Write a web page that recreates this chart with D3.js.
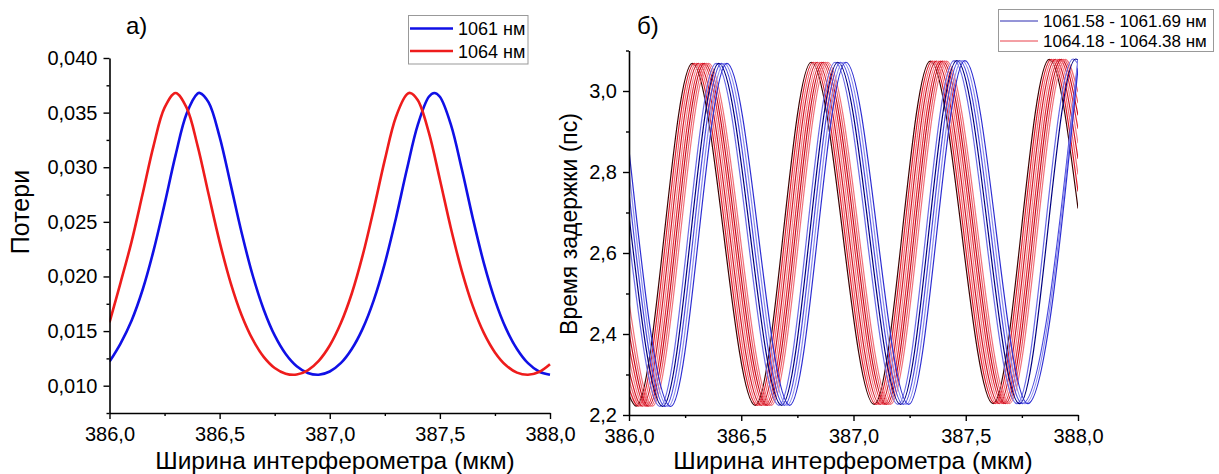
<!DOCTYPE html>
<html><head><meta charset="utf-8">
<script src="https://cdn.jsdelivr.net/npm/d3@7"></script>
<style>
body{margin:0;background:#fff}
svg{display:block}
text{font-family:"Liberation Sans",Arial,sans-serif;fill:#000}
</style>
</head><body>
<svg id="c" width="1219" height="474"></svg>
<script>
// ---------- Panel a) : losses ----------
const lossBlueX = [386.00,386.05,386.10,386.15,386.20,386.25,386.30,386.35,386.40,386.41,386.45,386.50,386.55,386.60,386.65,386.70,386.75,386.80,386.85,386.90,386.95,387.00,387.05,387.10,387.15,387.20,387.25,387.30,387.35,387.40,387.45,387.475,387.50,387.55,387.60,387.65,387.70,387.75,387.80,387.85,387.90,387.95,388.00];
const lossBlueY = [0.0122,0.01386,0.01595,0.01876,0.02236,0.02662,0.03111,0.03489,0.03674,0.0368,0.03593,0.03278,0.02843,0.0240,0.02011,0.01698,0.0146,0.0129,0.01178,0.01117,0.0110,0.0113,0.01206,0.01336,0.01525,0.01784,0.0212,0.02529,0.02979,0.0339,0.03645,0.0368,0.03645,0.0339,0.02979,0.02529,0.0212,0.01784,0.01525,0.01336,0.01206,0.0113,0.0110];
const lossRedX = [386.00,386.05,386.10,386.15,386.20,386.25,386.30,386.35,386.40,386.45,386.50,386.55,386.60,386.65,386.70,386.75,386.80,386.85,386.90,386.95,387.00,387.05,387.10,387.15,387.20,387.25,387.30,387.35,387.365,387.40,387.45,387.50,387.55,387.60,387.65,387.70,387.75,387.80,387.85,387.90,387.95,388.00];
const lossRedY = [0.0158,0.01942,0.02317,0.02752,0.03196,0.03545,0.0368,0.03545,0.03196,0.02752,0.02317,0.01942,0.01645,0.01423,0.01264,0.01162,0.0111,0.01102,0.01141,0.01228,0.01368,0.01571,0.01844,0.02197,0.02618,0.03067,0.03458,0.03667,0.0368,0.03613,0.03317,0.02888,0.02442,0.02047,0.01726,0.01481,0.01305,0.01187,0.0112,0.0110,0.01125,0.01196];
const lossLegend = ["1061 нм","1064 нм"];
const lossTicksMajor = [0.010,0.015,0.020,0.025,0.030,0.035,0.040];
const lossTicksMinor = [0.0075,0.0125,0.0175,0.0225,0.0275,0.0325,0.0375];
const widthTicksMajor = [386.0,386.5,387.0,387.5,388.0];
const widthTicksMinor = [386.25,386.75,387.25,387.75];

// ---------- Panel б) : delay time (start, extrema, end of each curve) ----------
const delayRedX = [
 [386.000,386.032,386.282,386.562,386.812,387.092,387.342,387.622,387.872,388.000],
 [386.000,386.041,386.291,386.571,386.821,387.101,387.351,387.631,387.881,388.000],
 [386.000,386.050,386.300,386.580,386.830,387.110,387.360,387.640,387.890,388.000],
 [386.000,386.059,386.309,386.589,386.839,387.119,387.369,387.649,387.899,388.000],
 [386.000,386.068,386.318,386.598,386.848,387.128,387.378,387.658,387.908,388.000],
 [386.000,386.077,386.327,386.607,386.857,387.137,387.387,387.667,387.917,388.000],
 [386.000,386.086,386.336,386.616,386.866,387.146,387.396,387.676,387.926,388.000],
 [386.000,386.095,386.345,386.625,386.875,387.155,387.405,387.685,387.935,388.000],
 [386.000,386.104,386.354,386.634,386.884,387.164,387.414,387.694,387.944,388.000]
];
const delayRedY = [
 [2.249,2.222,3.068,2.224,3.071,2.226,3.074,2.228,3.078,2.710],
 [2.266,2.222,3.068,2.224,3.071,2.226,3.074,2.228,3.078,2.752],
 [2.287,2.222,3.068,2.224,3.071,2.226,3.074,2.228,3.078,2.794],
 [2.311,2.222,3.068,2.224,3.071,2.226,3.074,2.228,3.078,2.833],
 [2.339,2.222,3.068,2.224,3.071,2.226,3.074,2.228,3.078,2.871],
 [2.370,2.222,3.068,2.224,3.071,2.226,3.074,2.228,3.078,2.907],
 [2.404,2.222,3.068,2.224,3.071,2.226,3.074,2.228,3.078,2.940],
 [2.440,2.222,3.068,2.224,3.071,2.226,3.074,2.228,3.078,2.970],
 [2.479,2.222,3.068,2.224,3.071,2.226,3.074,2.228,3.078,2.997]
];
const delayBlueX = [
 [386.000,386.138,386.388,386.668,386.918,387.198,387.448,387.728,387.978,388.000],
 [386.000,386.150,386.400,386.680,386.930,387.210,387.460,387.740,387.990,388.000],
 [386.000,386.162,386.412,386.692,386.942,387.222,387.472,387.752,388.000],
 [386.000,386.174,386.424,386.704,386.954,387.234,387.484,387.764,388.000],
 [386.000,386.186,386.436,386.716,386.966,387.246,387.496,387.776,388.000]
];
const delayBlueY = [
 [2.635,2.221,3.068,2.224,3.071,2.226,3.075,2.228,3.079,3.066],
 [2.692,2.221,3.068,2.224,3.071,2.226,3.075,2.228,3.079,3.077],
 [2.748,2.221,3.068,2.224,3.071,2.226,3.075,2.228,3.079],
 [2.802,2.221,3.068,2.224,3.071,2.226,3.075,2.228,3.073],
 [2.854,2.221,3.068,2.224,3.071,2.226,3.075,2.228,3.056]
];
const delayRedColors = ["#3c0000","#e01828","#ee6a72","#d41424","#f08088","#e42a38","#c80c1c","#ec5a64","#f0707a"];
const delayBlueColors = ["#6a6ae6","#000080","#4a4ade","#8c8cec","#2e2ed2"];
const delayLegend = ["1061.58 - 1061.69 нм","1064.18 - 1064.38 нм"];
const delayTicksMajor = [2.2,2.4,2.6,2.8,3.0];
const delayTicksMinor = [2.3,2.5,2.7,2.9,3.1];

const svg = d3.select("#c");
const fmt = (d3f) => (v) => d3.format(d3f)(v).replace(".", ",");

function drawAxes(g, x, y, yMajor, yMinor, yFmt) {
  g.append("g").attr("transform", `translate(0,${y.range()[0]})`)
    .call(d3.axisBottom(x).tickValues(widthTicksMajor).tickSize(6).tickSizeOuter(0).tickPadding(8).tickFormat(fmt(".1f")));
  g.append("g").attr("transform", `translate(0,${y.range()[0]})`)
    .call(d3.axisBottom(x).tickValues(widthTicksMinor).tickSize(3).tickFormat(""))
    .call(s => s.select(".domain").remove());
  g.append("g").attr("transform", `translate(${x.range()[0]},0)`)
    .call(d3.axisLeft(y).tickValues(yMajor).tickSize(6).tickSizeOuter(0).tickPadding(6).tickFormat(fmt(yFmt)));
  g.append("g").attr("transform", `translate(${x.range()[0]},0)`)
    .call(d3.axisLeft(y).tickValues(yMinor).tickSize(3).tickFormat(""))
    .call(s => s.select(".domain").remove());
  g.selectAll(".domain").attr("stroke", "#000").attr("stroke-width", 1.6);
  g.selectAll(".tick line").attr("stroke", "#000").attr("stroke-width", 1.4);
  g.selectAll(".tick text").style("font-size", "20px").attr("fill", "#000")
    .style("font-family", '"Liberation Sans",Arial,sans-serif');
}

// ----- Left panel -----
const xL = d3.scaleLinear().domain([386, 388]).range([109.5, 550]);
const yL = d3.scaleLinear().domain([0.0075, 0.040]).range([413, 58]);
const gL = svg.append("g");
svg.append("clipPath").attr("id", "clipL").append("rect")
  .attr("x", xL(386)).attr("y", yL(0.040) - 5).attr("width", xL(388) - xL(386) + 1).attr("height", yL(0.0075) - yL(0.040) + 5);
const lineL = d3.line().curve(d3.curveCatmullRom.alpha(0.5));
const lossSeries = [
  {x: lossBlueX, y: lossBlueY, c: "#1010e6"},
  {x: lossRedX, y: lossRedY, c: "#ee1c1c"}
];
gL.append("g").attr("clip-path", "url(#clipL)").selectAll("path").data(lossSeries).join("path")
  .attr("fill", "none").attr("stroke", d => d.c).attr("stroke-width", 2.6)
  .attr("d", d => lineL(d.x.map((v, i) => [xL(v), yL(d.y[i])])));
drawAxes(gL, xL, yL, lossTicksMajor, lossTicksMinor, ".3f");

gL.append("text").attr("x", 126).attr("y", 34).style("font-size", "24px").text("а)");
gL.append("text").attr("x", 335).attr("y", 469).attr("text-anchor", "middle").style("font-size", "24.5px").text("Ширина интерферометра (мкм)");
gL.append("text").attr("transform", "translate(29,212) rotate(-90)").attr("text-anchor", "middle").style("font-size", "25px").text("Потери");

// legend a)
const legL = gL.append("g");
legL.append("rect").attr("x", 408.5).attr("y", 15.5).attr("width", 119.5).attr("height", 48.5)
  .attr("fill", "#fff").attr("stroke", "#999").attr("stroke-width", 1);
lossLegend.forEach((t, i) => {
  const yy = 28.5 + i * 22.5;
  legL.append("line").attr("x1", 410).attr("x2", 453).attr("y1", yy).attr("y2", yy)
    .attr("stroke", lossSeries[i].c).attr("stroke-width", 2.6);
  legL.append("text").attr("x", 458).attr("y", yy + 6.5).style("font-size", "18px").text(t);
});

// ----- Right panel -----
const xR = d3.scaleLinear().domain([386, 388]).range([629, 1078]);
const yR = d3.scaleLinear().domain([2.2, 3.1]).range([415, 50.5]);
const gR = svg.append("g");
svg.append("clipPath").attr("id", "clipR").append("rect")
  .attr("x", xR(386)).attr("y", yR(3.1)).attr("width", xR(388) - xR(386)).attr("height", yR(2.2) - yR(3.1));
const lineR = d3.line().curve(d3.curveMonotoneX);
const redSeries = delayRedX.map((xs, k) => ({x: xs, y: delayRedY[k], c: delayRedColors[k]}));
const blueSeries = delayBlueX.map((xs, k) => ({x: xs, y: delayBlueY[k], c: delayBlueColors[k]}));
const cg = gR.append("g").attr("clip-path", "url(#clipR)");
cg.selectAll("path.r").data(redSeries).join("path").attr("class", "r")
  .attr("fill", "none").attr("stroke", d => d.c).attr("stroke-width", 1.2)
  .attr("d", d => lineR(d.x.map((v, i) => [xR(v), yR(d.y[i])])));
cg.selectAll("path.b").data(blueSeries).join("path").attr("class", "b")
  .attr("fill", "none").attr("stroke", d => d.c).attr("stroke-width", 1.2)
  .attr("d", d => lineR(d.x.map((v, i) => [xR(v), yR(d.y[i])])));
drawAxes(gR, xR, yR, delayTicksMajor, delayTicksMinor, ".1f");

gR.append("text").attr("x", 637).attr("y", 34).style("font-size", "24px").text("б)");
gR.append("text").attr("x", 853).attr("y", 469).attr("text-anchor", "middle").style("font-size", "24.5px").text("Ширина интерферометра (мкм)");
gR.append("text").attr("transform", "translate(577,224) rotate(-90)").attr("text-anchor", "middle").style("font-size", "23px").text("Время задержки (пс)");

// legend б)
const legR = gR.append("g");
legR.append("rect").attr("x", 998.5).attr("y", 9.5).attr("width", 215).attr("height", 42)
  .attr("fill", "#fff").attr("stroke", "#999").attr("stroke-width", 1);
const legRColors = ["#2a2ab0", "#e8404a"];
delayLegend.forEach((t, i) => {
  const yy = 21 + i * 20;
  legR.append("line").attr("x1", 1000).attr("x2", 1038).attr("y1", yy).attr("y2", yy)
    .attr("stroke", legRColors[i]).attr("stroke-width", 1);
  legR.append("text").attr("x", 1043).attr("y", yy + 6).style("font-size", "17px").text(t);
});
</script>
</body></html>
